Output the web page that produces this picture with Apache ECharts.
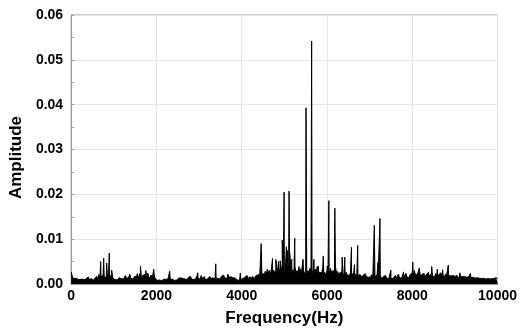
<!DOCTYPE html>
<html>
<head>
<meta charset="utf-8">
<script src="https://cdn.jsdelivr.net/npm/echarts@6/dist/echarts.min.js"></script>
<style>html,body{margin:0;padding:0;background:#fff}#c{width:520px;height:332px}</style>
</head>
<body>
<div id="c"></div>
<script>
var noiseStep = 25;
var noiseFloor = [
0.0027,0.0018,0.0012,0.0010,0.0013,0.0009,0.0011,0.0012,0.0010,0.0014,0.0011,0.0012,0.0010,0.0013,0.0011,0.0012,0.0016,0.0010,0.0009,0.0012,
0.0011,0.0008,0.0013,0.0010,0.0017,0.0012,0.0021,0.0015,0.0019,0.0014,0.0022,0.0016,0.0018,0.0015,0.0020,0.0013,0.0012,0.0019,0.0011,0.0014,
0.0012,0.0010,0.0013,0.0009,0.0011,0.0014,0.0010,0.0012,0.0016,0.0011,0.0013,0.0019,0.0012,0.0010,0.0015,0.0022,0.0013,0.0017,0.0011,0.0015,
0.0018,0.0012,0.0023,0.0014,0.0016,0.0026,0.0012,0.0019,0.0015,0.0021,0.0013,0.0017,0.0024,0.0012,0.0016,0.0020,0.0011,0.0014,0.0018,0.0012,
0.0010,0.0008,0.0011,0.0009,0.0010,0.0007,0.0009,0.0011,0.0008,0.0010,0.0009,0.0012,0.0008,0.0010,0.0009,0.0011,0.0010,0.0008,0.0012,0.0009,
0.0011,0.0013,0.0009,0.0014,0.0010,0.0012,0.0016,0.0011,0.0013,0.0010,0.0015,0.0012,0.0017,0.0011,0.0013,0.0010,0.0014,0.0012,0.0018,0.0013,
0.0015,0.0011,0.0019,0.0013,0.0012,0.0016,0.0010,0.0014,0.0011,0.0013,0.0017,0.0012,0.0010,0.0014,0.0012,0.0011,0.0013,0.0010,0.0012,0.0015,
0.0012,0.0017,0.0013,0.0020,0.0014,0.0018,0.0012,0.0022,0.0015,0.0013,0.0016,0.0012,0.0014,0.0011,0.0013,0.0010,0.0009,0.0011,0.0008,0.0010,
0.0009,0.0012,0.0010,0.0015,0.0011,0.0019,0.0013,0.0012,0.0016,0.0011,0.0017,0.0014,0.0012,0.0018,0.0015,0.0020,0.0016,0.0022,0.0018,0.0017,
0.0024,0.0019,0.0028,0.0021,0.0033,0.0025,0.0030,0.0022,0.0036,0.0026,0.0031,0.0024,0.0029,0.0038,0.0027,0.0034,0.0025,0.0032,0.0041,0.0028,
0.0030,0.0036,0.0026,0.0044,0.0031,0.0028,0.0035,0.0024,0.0032,0.0027,0.0038,0.0025,0.0030,0.0023,0.0029,0.0034,0.0024,0.0028,0.0031,0.0022,
0.0027,0.0032,0.0024,0.0029,0.0035,0.0026,0.0031,0.0023,0.0028,0.0033,0.0025,0.0029,0.0022,0.0027,0.0031,0.0024,0.0036,0.0026,0.0030,0.0023,
0.0029,0.0025,0.0032,0.0022,0.0027,0.0024,0.0030,0.0021,0.0026,0.0023,0.0028,0.0020,0.0025,0.0022,0.0027,0.0019,0.0024,0.0021,0.0026,0.0020,
0.0023,0.0019,0.0025,0.0021,0.0018,0.0024,0.0020,0.0017,0.0022,0.0019,0.0016,0.0021,0.0018,0.0015,0.0020,0.0017,0.0023,0.0016,0.0019,0.0015,
0.0018,0.0016,0.0021,0.0015,0.0019,0.0017,0.0014,0.0020,0.0016,0.0013,0.0018,0.0015,0.0012,0.0017,0.0014,0.0019,0.0013,0.0016,0.0012,0.0015,
0.0013,0.0017,0.0012,0.0015,0.0019,0.0013,0.0016,0.0022,0.0014,0.0018,0.0013,0.0020,0.0015,0.0017,0.0024,0.0016,0.0019,0.0014,0.0021,0.0017,
0.0025,0.0018,0.0030,0.0020,0.0017,0.0023,0.0019,0.0027,0.0016,0.0021,0.0018,0.0024,0.0015,0.0020,0.0017,0.0026,0.0019,0.0016,0.0022,0.0018,
0.0020,0.0016,0.0024,0.0018,0.0015,0.0021,0.0017,0.0025,0.0016,0.0019,0.0014,0.0022,0.0017,0.0015,0.0020,0.0016,0.0018,0.0014,0.0019,0.0015,
0.0017,0.0013,0.0019,0.0015,0.0012,0.0018,0.0014,0.0016,0.0012,0.0017,0.0013,0.0015,0.0011,0.0016,0.0013,0.0014,0.0011,0.0015,0.0012,0.0013,
0.0011,0.0014,0.0010,0.0013,0.0011,0.0012,0.0009,0.0013,0.0010,0.0011,0.0009,0.0012,0.0010,0.0011,0.0008,0.0012,0.0010,0.0013,0.0011,0.0014,
0.0012
];

// Discrete spectral peaks: frequencies (Hz) and amplitudes
var peakFreq = [693, 763, 833, 894, 950, 1626, 1750, 1937, 2310, 2971, 3392, 3967,
  4457, 4511, 4722, 4800, 4861, 4901, 4950, 4994, 5048, 5072, 5111, 5127, 5174, 5244, 5344, 5438,
  5508, 5640, 5694, 5771, 5795, 5912, 6005, 6044, 6084, 6184, 6200, 6356, 6418, 6574, 6644, 6721,
  7110, 7195, 7243, 7499, 7795, 8012, 8068, 8168, 8456, 8588, 8712, 8845, 9118, 9366];
var peakAmp = [0.0050, 0.0058, 0.0047, 0.0069, 0.0031, 0.0040, 0.0030, 0.0033, 0.0029, 0.0025, 0.0045, 0.0024,
  0.0090, 0.0027, 0.0057, 0.0055, 0.0050, 0.0052, 0.0098, 0.0205, 0.0083, 0.0075, 0.0207, 0.0068, 0.0055, 0.0102, 0.0039, 0.0055,
  0.0393, 0.0542, 0.0055, 0.0039, 0.0040, 0.0062, 0.0040, 0.0186, 0.0035, 0.0169, 0.0039, 0.0060, 0.0060, 0.0082, 0.0043, 0.0086,
  0.0131, 0.0048, 0.0146, 0.0031, 0.0027, 0.0049, 0.0030, 0.0036, 0.0039, 0.0033, 0.0032, 0.0042, 0.0025, 0.0024];

var xTicks = [0, 2000, 4000, 6000, 8000, 10000];
var yTicks = ['0.00', '0.01', '0.02', '0.03', '0.04', '0.05', '0.06'];

var pts = [];
for (var i = 0; i < noiseFloor.length; i++) pts.push([i * noiseStep, noiseFloor[i]]);
for (var j = 0; j < peakFreq.length; j++) pts.push([peakFreq[j], peakAmp[j]]);
pts.sort(function (a, b) { return a[0] - b[0]; });

var FF = 'Liberation Sans, Arial, sans-serif';
var chart = echarts.init(document.getElementById('c'), null, { renderer: 'canvas' });
var lab = { color: '#000', fontWeight: 'bold', fontSize: 14, fontFamily: FF };
chart.setOption({
  animation: false,
  grid: { left: 71, right: 21, top: 15, bottom: 45, show: true, borderColor: '#999', borderWidth: 1, backgroundColor: 'transparent' },
  xAxis: {
    type: 'value', min: 0, max: 10000, interval: 2000,
    name: 'Frequency(Hz)', nameLocation: 'middle', nameGap: 26,
    nameTextStyle: { color: '#000', fontWeight: 'bold', fontSize: 17, fontFamily: FF },
    axisLine: { show: true, lineStyle: { color: '#999', width: 1 } },
    axisTick: { show: true, inside: true, length: 3, lineStyle: { color: '#999' } },
    minorTick: { show: true, splitNumber: 2, length: 2, lineStyle: { color: '#999' } },
    axisLabel: Object.assign({ margin: 5, formatter: function (v) { return xTicks.indexOf(v) >= 0 ? String(v) : ''; } }, lab),
    splitLine: { show: true, lineStyle: { color: '#e6e6e6', width: 1 } }
  },
  yAxis: {
    type: 'value', min: 0, max: 0.06, interval: 0.01,
    name: 'Amplitude', nameLocation: 'middle', nameGap: 46,
    nameTextStyle: { color: '#000', fontWeight: 'bold', fontSize: 17, fontFamily: FF, padding: [0, 16, 0, 0] },
    axisLine: { show: true, lineStyle: { color: '#999', width: 1 } },
    axisTick: { show: true, inside: true, length: 3, lineStyle: { color: '#999' } },
    minorTick: { show: true, splitNumber: 2, length: 3, lineStyle: { color: '#999' } },
    axisLabel: Object.assign({ margin: 8, formatter: function (v) { return yTicks[Math.round(v * 100)]; } }, lab),
    splitLine: { show: true, lineStyle: { color: '#e6e6e6', width: 1 } }
  },
  series: [{
    type: 'line', data: pts, showSymbol: false, symbol: 'none', sampling: null,
    lineStyle: { color: '#000', width: 1 },
    areaStyle: { color: '#000', opacity: 1, origin: 'start' },
    clip: true
  }]
});
</script>
</body>
</html>
